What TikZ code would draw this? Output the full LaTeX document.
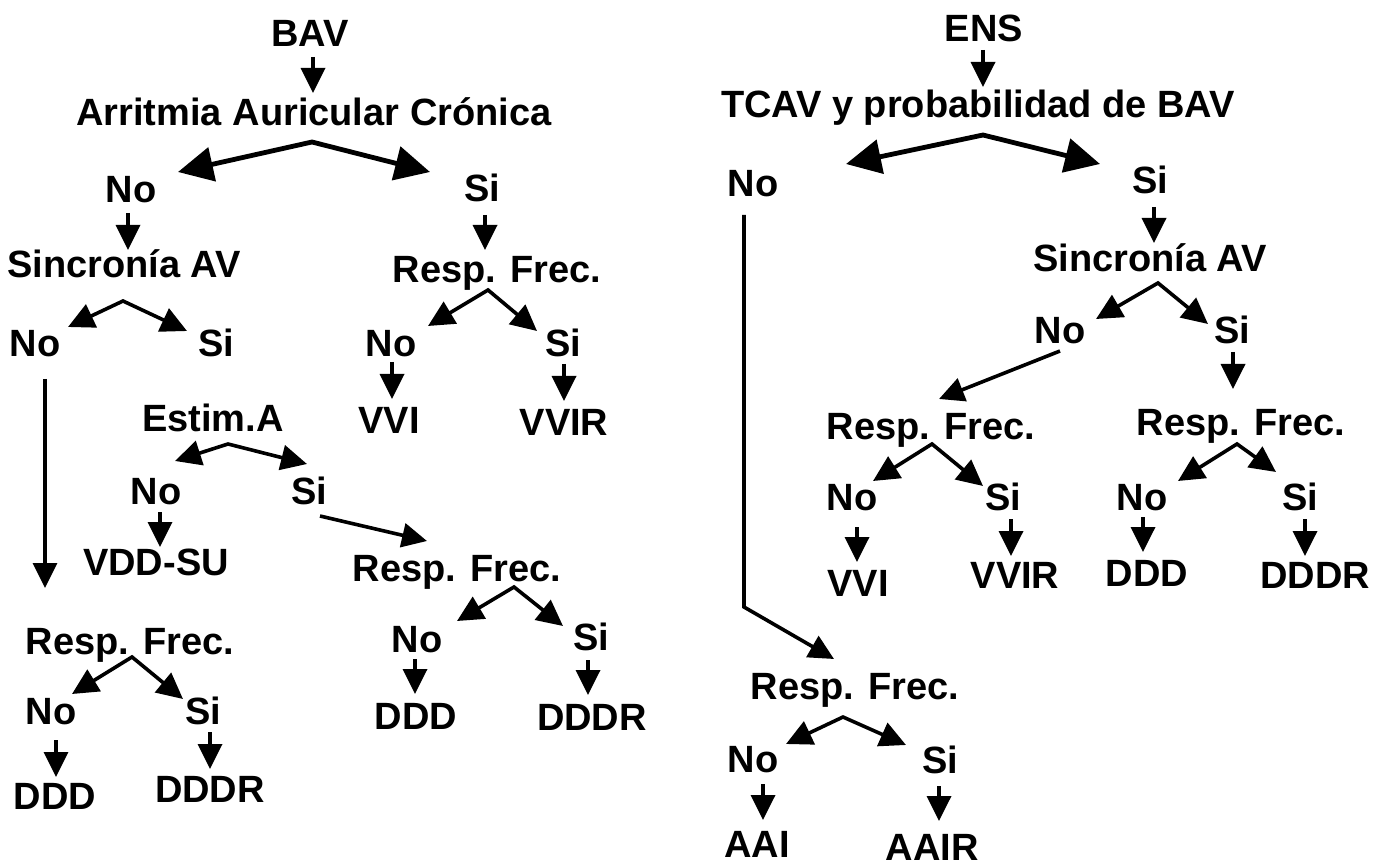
\documentclass[tikz,border=0pt]{standalone}
\usepackage{fontspec}
\setmainfont{Liberation Sans}
\usetikzlibrary{arrows.meta}
\begin{document}
\begin{tikzpicture}[x=1pt,y=-1pt,
  lbl/.style={font=\fontsize{38}{40}\selectfont\bfseries, inner sep=0pt, anchor=base},
  sarr/.style={line width=3.6pt, -{Triangle[length=25pt,width=24pt]}},
  farr/.style={line width=3.6pt, line join=miter, {Triangle[length=26pt,width=25pt]}-{Triangle[length=26pt,width=25pt]}},
  barr/.style={line width=4.8pt, line join=miter, {Triangle[length=35pt,width=34pt]}-{Triangle[length=35pt,width=34pt]}}]
\useasboundingbox (0,0) rectangle (1374,866);
% ---------- left tree: nodes ----------
\node[lbl] (bav) at (310,47) {BAV};
\node[lbl] (aac) at (314,126) {Arritmia Auricular Crónica};
\node[lbl] (n1) at (131,203) {No};
\node[lbl] (s1) at (482,202) {Si};
\node[lbl] (sinc1) at (124,278) {Sincronía AV};
\node[lbl] (rf1) at (497,283) {Resp. Frec.};
\node[lbl] (n2) at (35,357) {No};
\node[lbl] (s2) at (216,357) {Si};
\node[lbl] (n3) at (391,357) {No};
\node[lbl] (s3) at (563,357) {Si};
\node[lbl] (vvi1) at (389,434) {VVI};
\node[lbl] (vvir1) at (564,436) {VVIR};
\node[lbl] (estim) at (213,432) {Estim.A};
\node[lbl] (n4) at (156,504) {No};
\node[lbl] (s4) at (309,504) {Si};
\node[lbl] (vdd) at (156,575) {VDD-SU};
\node[lbl] (rf2) at (457,581) {Resp. Frec.};
\node[lbl] (n5) at (417,652) {No};
\node[lbl] (s5) at (591,650) {Si};
\node[lbl] (ddd1) at (416,729) {DDD};
\node[lbl] (dddr1) at (592,730) {DDDR};
\node[lbl] (rf3) at (130,654) {Resp. Frec.};
\node[lbl] (n6) at (51,724) {No};
\node[lbl] (s6) at (203,724) {Si};
\node[lbl] (ddd2) at (55,809) {DDD};
\node[lbl] (dddr2) at (210,802) {DDDR};
% ---------- right tree: nodes ----------
\node[lbl] (ens) at (984,42) {ENS};
\node[lbl] (tcav) at (978,118) {TCAV y probabilidad de BAV};
\node[lbl] (n7) at (753,197) {No};
\node[lbl] (s7) at (1150,194) {Si};
\node[lbl] (sinc2) at (1150,272) {Sincronía AV};
\node[lbl] (n8) at (1060,344) {No};
\node[lbl] (s8) at (1232,344) {Si};
\node[lbl] (rf4) at (931,439) {Resp. Frec.};
\node[lbl] (rf5) at (1241,436) {Resp. Frec.};
\node[lbl] (n9) at (852,511) {No};
\node[lbl] (s9) at (1003,511) {Si};
\node[lbl] (vvi2) at (858,596) {VVI};
\node[lbl] (vvir2) at (1015,588) {VVIR};
\node[lbl] (n10) at (1142,511) {No};
\node[lbl] (s10) at (1300,511) {Si};
\node[lbl] (ddd3) at (1147,586) {DDD};
\node[lbl] (dddr3) at (1315,588) {DDDR};
\node[lbl] (rf6) at (855,699) {Resp. Frec.};
\node[lbl] (n11) at (753,772) {No};
\node[lbl] (s11) at (940,773) {Si};
\node[lbl] (aai) at (757,857) {AAI};
\node[lbl] (aair) at (932,860) {AAIR};
% ---------- connector end points ----------
\coordinate (bav-o) at (313,57);   \coordinate (aac-i) at (313,93);
\coordinate (aac-o) at (312,142);  \coordinate (n1-i) at (178,172); \coordinate (s1-i) at (430,172);
\coordinate (n1-o) at (128,213);   \coordinate (sinc1-i) at (128,250);
\coordinate (s1-o) at (485,215);   \coordinate (rf1-i) at (485,250);
\coordinate (sinc1-o) at (123,301); \coordinate (n2-i) at (68,327); \coordinate (s2-i) at (187,331);
\coordinate (rf1-o) at (488,290);  \coordinate (n3-i) at (428,326); \coordinate (s3-i) at (537,331);
\coordinate (n3-o) at (392,362);   \coordinate (vvi1-i) at (392,399);
\coordinate (s3-o) at (564,364);   \coordinate (vvir1-i) at (564,401);
\coordinate (n2-o) at (45,379);    \coordinate (rf3-i) at (45,588);
\coordinate (estim-o) at (228,444); \coordinate (n4-i) at (175,461); \coordinate (s4-i) at (307,464);
\coordinate (n4-o) at (160,512);   \coordinate (vdd-i) at (160,547);
\coordinate (s4-o) at (320,516);   \coordinate (rf2-i) at (427,541);
\coordinate (rf2-o) at (514,587);  \coordinate (n5-i) at (457,621); \coordinate (s5-i) at (563,626);
\coordinate (n5-o) at (415,659);   \coordinate (ddd1-i) at (415,694);
\coordinate (s5-o) at (588,660);   \coordinate (dddr1-i) at (588,695);
\coordinate (rf3-o) at (132,657);  \coordinate (n6-i) at (72,694); \coordinate (s6-i) at (183,699);
\coordinate (n6-o) at (56,740);    \coordinate (ddd2-i) at (56,777);
\coordinate (s6-o) at (210,732);   \coordinate (dddr2-i) at (210,769);
\coordinate (ens-o) at (983,50);   \coordinate (tcav-i) at (983,87);
\coordinate (tcav-o) at (983,135); \coordinate (n7-i) at (846,164); \coordinate (s7-i) at (1100,164);
\coordinate (n7-o) at (744,215);   \coordinate (bend) at (744,607); \coordinate (rf6-i) at (834,659);
\coordinate (s7-o) at (1154,207);  \coordinate (sinc2-i) at (1154,243);
\coordinate (sinc2-o) at (1158,283); \coordinate (n8-i) at (1096,319); \coordinate (s8-i) at (1208,324);
\coordinate (n8-o) at (1060,351);  \coordinate (rf4-i) at (939,399);
\coordinate (s8-o) at (1233,352);  \coordinate (rf5-i) at (1233,389);
\coordinate (rf4-o) at (932,444);  \coordinate (n9-i) at (873,481); \coordinate (s9-i) at (983,486);
\coordinate (n9-o) at (857,527);   \coordinate (vvi2-i) at (857,562);
\coordinate (s9-o) at (1011,519);  \coordinate (vvir2-i) at (1011,556);
\coordinate (rf5-o) at (1237,444); \coordinate (n10-i) at (1178,481); \coordinate (s10-i) at (1276,472);
\coordinate (n10-o) at (1143,517); \coordinate (ddd3-i) at (1143,552);
\coordinate (s10-o) at (1305,519); \coordinate (dddr3-i) at (1305,556);
\coordinate (rf6-o) at (843,717);  \coordinate (n11-i) at (786,744); \coordinate (s11-i) at (906,745);
\coordinate (n11-o) at (763,784);  \coordinate (aai-i) at (763,820);
\coordinate (s11-o) at (939,786);  \coordinate (aair-i) at (939,821);
% ---------- connectors: left tree ----------
\draw[sarr] (bav-o) -- (aac-i);
\draw[barr] (n1-i) -- (aac-o) -- (s1-i);
\draw[sarr] (n1-o) -- (sinc1-i);
\draw[sarr] (s1-o) -- (rf1-i);
\draw[farr] (n2-i) -- (sinc1-o) -- (s2-i);
\draw[farr] (n3-i) -- (rf1-o) -- (s3-i);
\draw[sarr] (n3-o) -- (vvi1-i);
\draw[sarr] (s3-o) -- (vvir1-i);
\draw[sarr] (n2-o) -- (rf3-i);
\draw[farr] (n4-i) -- (estim-o) -- (s4-i);
\draw[sarr] (n4-o) -- (vdd-i);
\draw[sarr] (s4-o) -- (rf2-i);
\draw[farr] (n5-i) -- (rf2-o) -- (s5-i);
\draw[sarr] (n5-o) -- (ddd1-i);
\draw[sarr] (s5-o) -- (dddr1-i);
\draw[farr] (n6-i) -- (rf3-o) -- (s6-i);
\draw[sarr] (n6-o) -- (ddd2-i);
\draw[sarr] (s6-o) -- (dddr2-i);
% ---------- connectors: right tree ----------
\draw[sarr] (ens-o) -- (tcav-i);
\draw[barr] (n7-i) -- (tcav-o) -- (s7-i);
\draw[sarr, line join=miter] (n7-o) -- (bend) -- (rf6-i);
\draw[sarr] (s7-o) -- (sinc2-i);
\draw[farr] (n8-i) -- (sinc2-o) -- (s8-i);
\draw[sarr] (n8-o) -- (rf4-i);
\draw[sarr] (s8-o) -- (rf5-i);
\draw[farr] (n9-i) -- (rf4-o) -- (s9-i);
\draw[sarr] (n9-o) -- (vvi2-i);
\draw[sarr] (s9-o) -- (vvir2-i);
\draw[farr] (n10-i) -- (rf5-o) -- (s10-i);
\draw[sarr] (n10-o) -- (ddd3-i);
\draw[sarr] (s10-o) -- (dddr3-i);
\draw[farr] (n11-i) -- (rf6-o) -- (s11-i);
\draw[sarr] (n11-o) -- (aai-i);
\draw[sarr] (s11-o) -- (aair-i);
\end{tikzpicture}
\end{document}
